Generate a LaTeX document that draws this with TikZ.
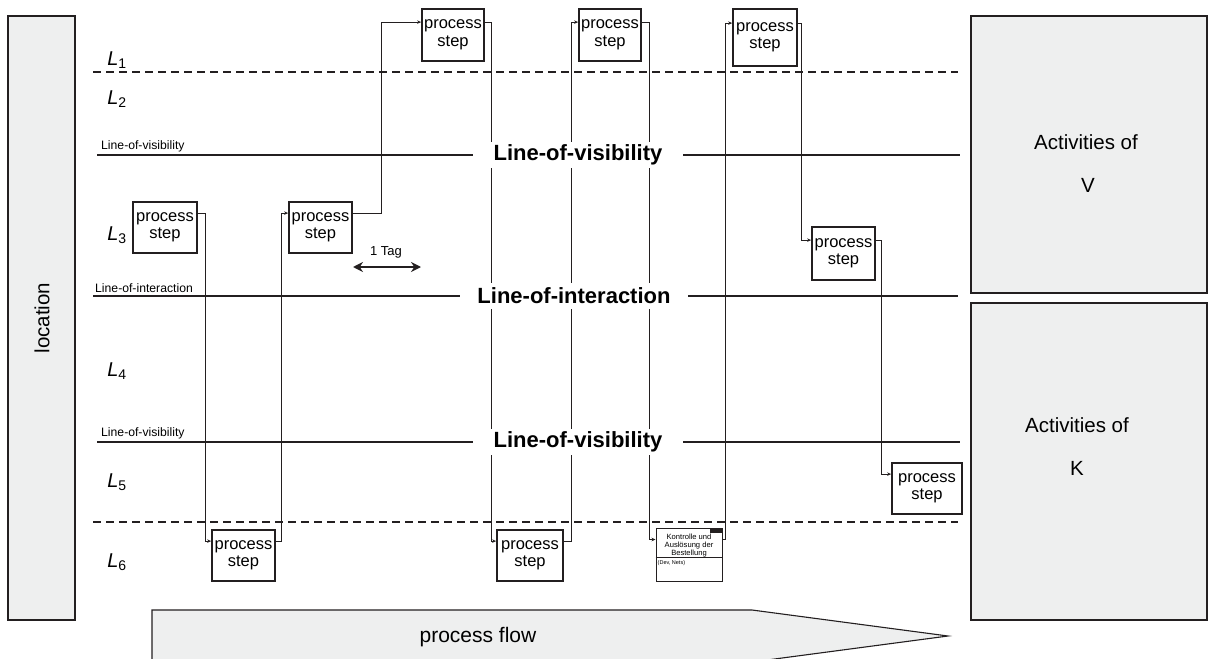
\documentclass[tikz,border=0pt]{standalone}
\usepackage{fontspec}
\setmainfont{Liberation Sans}
\usetikzlibrary{calc,arrows.meta}
\definecolor{gfill}{RGB}{238,239,239}
\definecolor{ink}{RGB}{35,31,32}
\begin{document}
\begin{tikzpicture}[x=1pt,y=-1pt,
  pstep/.style={draw=ink,line width=1.8pt,fill=white,align=center,inner sep=0pt,font=\fontsize{16.5}{17.5}\selectfont},
  conn/.style={draw=ink,line width=0.8pt,-{Stealth[length=4pt,width=3.5pt]}},
  gbox/.style={draw=ink,line width=1.1pt,fill=gfill},
  solidline/.style={draw=ink,line width=1.8pt},
  dashline/.style={draw=ink,line width=1.4pt,dash pattern=on 8pt off 5pt},
  biglabel/.style={fill=white,inner sep=0pt,minimum height=26pt,font=\fontsize{22}{22}\selectfont\bfseries},
  smalllabel/.style={inner sep=0pt,anchor=south west,font=\fontsize{12.2}{12.5}\selectfont},
  llabel/.style={inner sep=0pt,font=\fontsize{20}{20}\selectfont},
  bigtext/.style={inner sep=0pt,font=\fontsize{20.5}{21}\selectfont}]
\useasboundingbox (0,0) rectangle (1209,658);
\clip (0,0) rectangle (1209,658);

% side boxes
\draw[gbox] (8,16) rectangle (75,620);
\node[bigtext,rotate=90] (loc) at (42,318) {location};
\draw[gbox] (971,16) rectangle (1207,293);
\node[bigtext] (av1) at (1086,142) {Activities of};
\node[bigtext] (av2) at (1088,185) {V};
\draw[gbox] (971,303) rectangle (1207,620);
\node[bigtext] (ak1) at (1077,425) {Activities of};
\node[bigtext] (ak2) at (1077,468) {K};

% process flow arrow
\draw[gbox] (152,610) -- (752,610) -- (948,636) -- (752,662) -- (152,662) -- cycle;
\node[inner sep=0pt,font=\fontsize{21}{21}\selectfont] (pf) at (478,637) {process flow};

% horizontal lines
\draw[dashline] (93,72) -- (958,72);
\draw[solidline] (97,155) -- (960,155);
\draw[solidline] (93,296) -- (958,296);
\draw[solidline] (97,442) -- (960,442);
\draw[dashline] (93,522) -- (958,522);

\node[smalllabel] (s1) at (101,152) {Line-of-visibility};
\node[smalllabel] (s2) at (95,293) {Line-of-interaction};
\node[smalllabel] (s3) at (101,439) {Line-of-visibility};

% level labels
\node[llabel] (L1) at (117,60) {\textit{L}\textsubscript{1}};
\node[llabel] (L2) at (117,99) {\textit{L}\textsubscript{2}};
\node[llabel] (L3) at (117,235) {\textit{L}\textsubscript{3}};
\node[llabel] (L4) at (117,371) {\textit{L}\textsubscript{4}};
\node[llabel] (L5) at (117,482) {\textit{L}\textsubscript{5}};
\node[llabel] (L6) at (117,562) {\textit{L}\textsubscript{6}};

% process steps
\node[pstep,minimum width=64pt,minimum height=51pt] (P3a) at (165,227.5) {process\\step};
\node[pstep,minimum width=63pt,minimum height=51pt] (P3b) at (320.5,227.5) {process\\step};
\node[pstep,minimum width=62pt,minimum height=52pt] (P1a) at (453,35) {process\\step};
\node[pstep,minimum width=62pt,minimum height=52pt] (P1b) at (610,35) {process\\step};
\node[pstep,minimum width=64pt,minimum height=57pt] (P1c) at (765,37.5) {process\\step};
\node[pstep,minimum width=63pt,minimum height=53pt] (PV) at (843.5,253.5) {process\\step};
\node[pstep,minimum width=70pt,minimum height=51pt] (P5) at (927,488.5) {process\\step};
\node[pstep,minimum width=63pt,minimum height=51pt] (P6a) at (243.5,555.5) {process\\step};
\node[pstep,minimum width=66pt,minimum height=51pt] (P6b) at (530,555.5) {process\\step};

% Kontrolle box
\node[draw=ink,line width=1pt,fill=white,minimum width=66pt,minimum height=53pt,inner sep=0pt] (K) at (689,554.5) {};
\node[inner sep=0pt,anchor=north,align=center,font=\fontsize{7.6}{7.9}\selectfont] (Kt) at ($(K.north)+(0,6.5)$) {Kontrolle und\\Auslösung der\\Bestellung};
\draw[ink,line width=0.6pt] ($(K.north west)+(0,30)$) -- ($(K.north east)+(0,30)$);
\node[inner sep=0pt,anchor=north west,font=\fontsize{5.5}{5.5}\selectfont] (Kd) at ($(K.north west)+(2,33)$) {(Dev, Nets)};
\node[fill=ink,minimum width=12pt,minimum height=5.5pt,inner sep=0pt,anchor=north east] (Ktag) at (K.north east) {};

% connectors
\draw[conn] ($(P3a.north east)+(0,12)$) -- ++(7,0) |- ($(P6a.north west)+(0,12)$);
\draw[conn] ($(P6a.north east)+(0,12)$) -- ++(5,0) |- ($(P3b.north west)+(0,12)$);
\draw[conn] ($(P3b.north east)+(0,12)$) -- ++(28,0) |- ($(P1a.north west)+(0,14)$);
\draw[conn] ($(P1a.north east)+(0,14)$) -- ++(6,0) |- ($(P6b.north west)+(0,12)$);
\draw[conn] ($(P6b.north east)+(0,12)$) -- ++(7,0) |- ($(P1b.north west)+(0,14)$);
\draw[conn] ($(P1b.north east)+(0,14)$) -- ++(7,0) |- ($(K.north west)+(0,12)$);
\draw[conn] ($(K.north east)+(0,12)$) -- ++(3,0) |- ($(P1c.north west)+(0,15)$);
\draw[conn] ($(P1c.north east)+(0,15)$) -- ++(3,0) |- ($(PV.north west)+(0,14)$);
\draw[conn] ($(PV.north east)+(0,14)$) -- ++(5,0) |- ($(P5.north west)+(0,12)$);

% big labels over lines
\node[biglabel,minimum width=210pt] (bv1) at (578,155) {Line-of-visibility};
\node[biglabel,minimum width=228pt] (bi) at (574,296) {Line-of-interaction};
\node[biglabel,minimum width=210pt] (bv2) at (578,442) {Line-of-visibility};

% 1 Tag
\coordinate (ta) at (353,267);
\coordinate (tb) at (421,267);
\draw[ink,line width=2.6pt,{Stealth[length=10pt,width=10pt]}-{Stealth[length=10pt,width=10pt]}] (ta) -- (tb);
\node[inner sep=0pt,font=\fontsize{13}{13}\selectfont] (tag) at (386,252) {1 Tag};
\end{tikzpicture}
\end{document}
